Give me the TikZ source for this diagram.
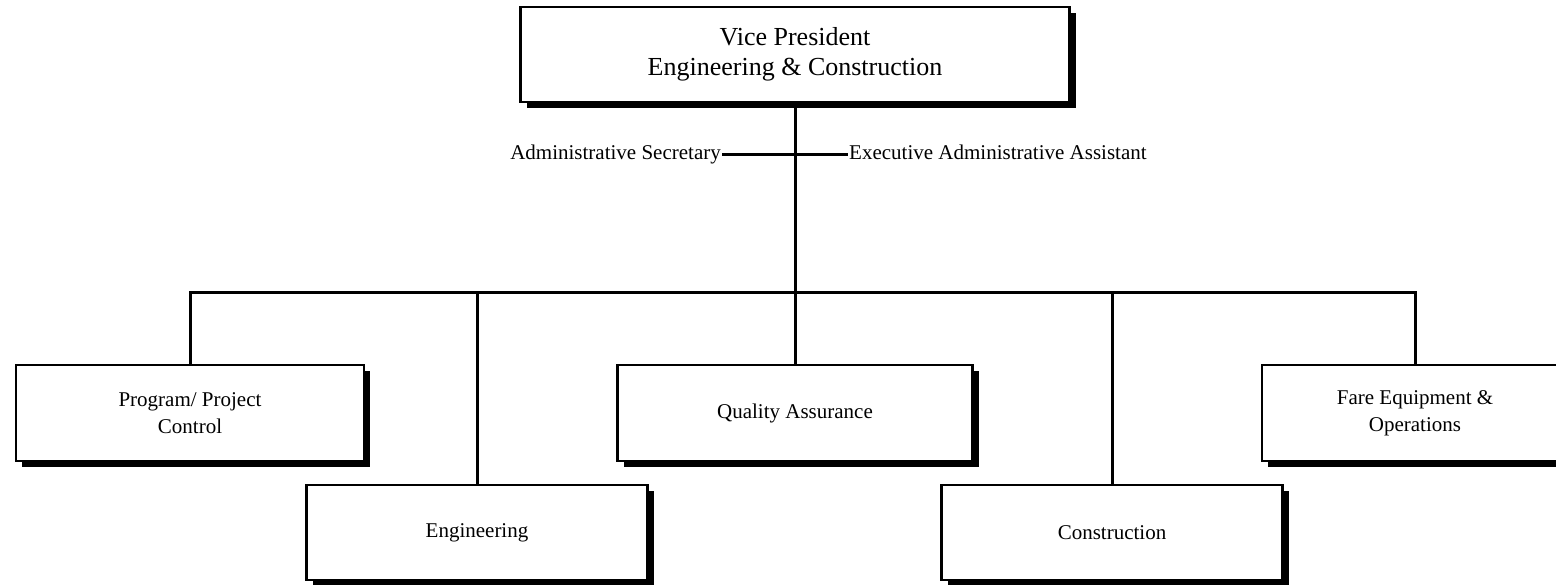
\documentclass[tikz,border=0pt]{standalone}
\usepackage{fontspec}
\setmainfont{Liberation Serif}
\usetikzlibrary{shadows}

\begin{document}
\begin{tikzpicture}[x=1pt,y=-1pt,
	unit/.style={draw,line width=2.5pt,fill=white,inner sep=0pt,outer sep=0pt,align=center,
		font=\fontsize{21}{27}\selectfont,
		drop shadow={shadow xshift=6pt,shadow yshift=-6pt,fill=black,opacity=1}},
	link/.style={line width=3pt},
	staff/.style={inner sep=1pt,font=\fontsize{21}{25}\selectfont}]
	\useasboundingbox (0,0) rectangle (1556,585);

	% head of the department
	\node[unit,minimum width=549pt,minimum height=95pt,font=\fontsize{26}{30}\selectfont]
		(vp) at (795,54.5) {Vice President\\Engineering \& Construction};

	% staff
	\node[staff,anchor=base east] (sec) at (722,160) {Administrative Secretary};
	\node[staff,anchor=base west] (exec) at (848,160) {Executive Administrative Assistant};

	% units
	\node[unit,minimum width=348pt,minimum height=96pt] (prog) at (190,413) {Program/ Project\\Control};
	\node[unit,minimum width=341pt,minimum height=95pt] (eng) at (477,532.5) {Engineering};
	\node[unit,minimum width=355pt,minimum height=96pt] (qa) at (795,413) {Quality Assurance};
	\node[unit,minimum width=341pt,minimum height=95pt] (cons) at (1112,532.5) {Construction};
	\node[unit,minimum width=306pt,minimum height=96pt] (fare) at (1415,413) {Fare Equipment \&\\Operations};

	% connectors
	\coordinate (bus) at (795,293);
	\draw[link] (vp.south) -- (bus);
	\draw[link] ([yshift=5pt]sec.base east) -- ([yshift=5pt]exec.base west);
	\draw[link] (prog.north) |- (bus) -| (fare.north);
	\draw[link] (eng.north) -- (eng.north |- bus);
	\draw[link] (qa.north) -- (bus);
	\draw[link] (cons.north) -- (cons.north |- bus);
\end{tikzpicture}
\end{document}
